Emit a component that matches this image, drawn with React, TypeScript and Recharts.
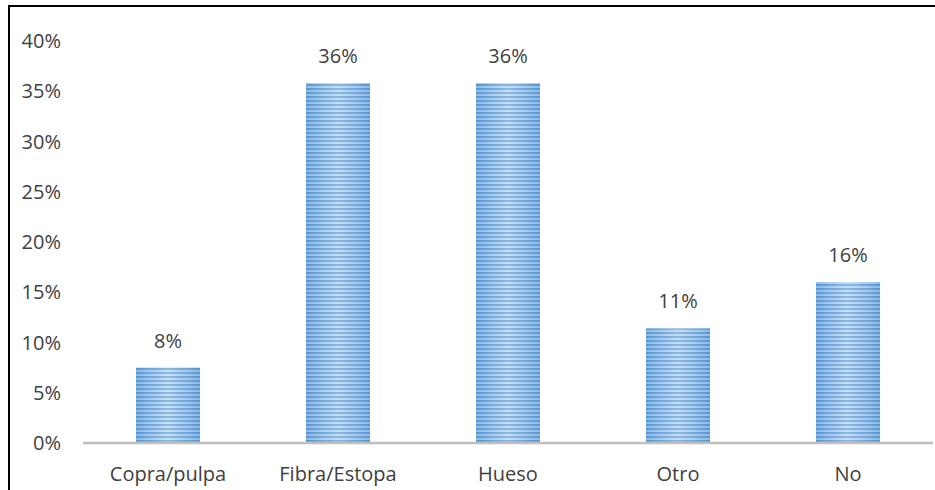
import React from "react";
import { BarChart, Bar, XAxis, YAxis, LabelList } from "recharts";

const categories = ["Copra/pulpa", "Fibra/Estopa", "Hueso", "Otro", "No"];
const values = [7.5, 35.8, 35.8, 11.4, 16.0];
const yTicks = [0, 5, 10, 15, 20, 25, 30, 35, 40];

const data = categories.map((c, i) => ({ name: c, value: values[i] }));

const StripedBar = (props: any) => {
  const { x, y, width, height } = props;
  if (!height || height <= 0) return null;
  return (
    <g>
      <rect x={x} y={y} width={width} height={height} fill="url(#stripes)" />
      <rect x={x} y={y} width={width} height={height} fill="url(#shine)" />
    </g>
  );
};

export default function App() {
  const font = "'Open Sans', 'DejaVu Sans', sans-serif";
  return (
    <div style={{ position: "absolute", top: 0, left: 0, width: 935, height: 490, overflow: "hidden", background: "#fff" }}>
      <div
        style={{
          position: "absolute",
          left: 8,
          top: 5,
          width: 1000,
          height: 1000,
          border: "2px solid #000",
          boxSizing: "border-box",
        }}
      />
      <div style={{ position: "absolute", left: 0, top: 0 }}>
        <BarChart
          width={935}
          height={490}
          data={data}
          margin={{ top: 41, right: 2, bottom: 0, left: 0 }}
          barSize={64}
        >
          <defs>
            <pattern id="stripes" patternUnits="userSpaceOnUse" width="8" height="4">
              <rect x="0" y="0" width="8" height="4" fill="#94bde6" />
              <rect x="0" y="0" width="8" height="1.7" fill="#5595d2" />
              <rect x="0" y="2.7" width="8" height="1" fill="#cbe0f4" />
            </pattern>
            <linearGradient id="shine" x1="0" y1="0" x2="1" y2="0">
              <stop offset="0%" stopColor="#4f8fcc" stopOpacity={0.35} />
              <stop offset="50%" stopColor="#ffffff" stopOpacity={0.3} />
              <stop offset="100%" stopColor="#4f8fcc" stopOpacity={0.35} />
            </linearGradient>
          </defs>
          <XAxis
            dataKey="name"
            height={47}
            tickLine={false}
            tickSize={0}
            tickMargin={24}
            axisLine={{ stroke: "#bfbfbf", strokeWidth: 2.5 }}
            tick={{ fill: "#404040", fontSize: 20, fontFamily: font }}
            interval={0}
          />
          <YAxis
            width={83}
            domain={[0, 40]}
            ticks={yTicks}
            axisLine={false}
            tickLine={false}
            tickSize={0}
            tickMargin={22}
            tickFormatter={(v: number) => `${v}%`}
            tick={{ fill: "#404040", fontSize: 20, fontFamily: font }}
          />
          <Bar dataKey="value" isAnimationActive={false} shape={StripedBar}>
            <LabelList
              dataKey="value"
              position="top"
              offset={20}
              formatter={(v: number) => `${Math.round(v)}%`}
              style={{ fill: "#404040", fontSize: 20, fontFamily: font }}
            />
          </Bar>
        </BarChart>
      </div>
    </div>
  );
}
